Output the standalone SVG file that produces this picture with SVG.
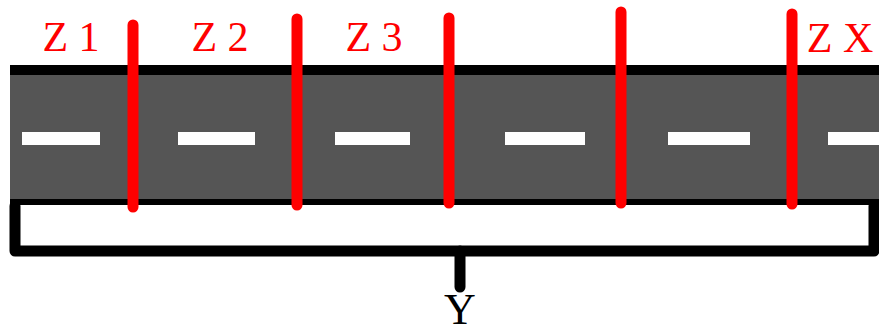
<svg xmlns="http://www.w3.org/2000/svg" width="879" height="333" viewBox="0 0 879 333">
<style>
.lbl{font-family:"Liberation Serif","Times New Roman",serif;font-size:42px;fill:#ff0000;text-anchor:middle}
.y{font-family:"Liberation Serif","Times New Roman",serif;font-size:44px;fill:#000;text-anchor:middle}
.zone{stroke:#ff0000;stroke-width:11;stroke-linecap:round;fill:none}
.dash{fill:#ffffff}
.br{stroke:#000;stroke-width:11;stroke-linecap:round;stroke-linejoin:round;fill:none}
</style>
<rect width="879" height="333" fill="#ffffff"/>
<g id="road">
<rect x="10" y="65" width="869" height="140" fill="#000"/>
<rect x="10" y="75" width="869" height="124" fill="#555555"/>
<rect class="dash" x="22" y="132" width="78" height="13"/>
<rect class="dash" x="178" y="132" width="77" height="13"/>
<rect class="dash" x="335" y="132" width="75" height="13"/>
<rect class="dash" x="505" y="132" width="80" height="13"/>
<rect class="dash" x="668" y="132" width="82" height="13"/>
<rect class="dash" x="828" y="132" width="51" height="13"/>
</g>
<g id="zones">
<line class="zone" x1="133" y1="25" x2="133" y2="207"/>
<line class="zone" x1="297" y1="19" x2="297" y2="205"/>
<line class="zone" x1="449" y1="18" x2="449" y2="203"/>
<line class="zone" x1="621" y1="12" x2="621" y2="203"/>
<line class="zone" x1="792" y1="14" x2="792" y2="204"/>
</g>
<g id="labels">
<text class="lbl" x="71" y="51">Z 1</text>
<text class="lbl" x="220" y="51">Z 2</text>
<text class="lbl" x="374" y="51">Z 3</text>
<text class="lbl" x="840" y="52">Z X</text>
</g>
<g id="bracket">
<path class="br" d="M15,206 V251 H874 V206"/>
<line class="br" x1="460" y1="251" x2="460" y2="287"/>
<text class="y" x="460" y="324">Y</text>
</g>
</svg>
